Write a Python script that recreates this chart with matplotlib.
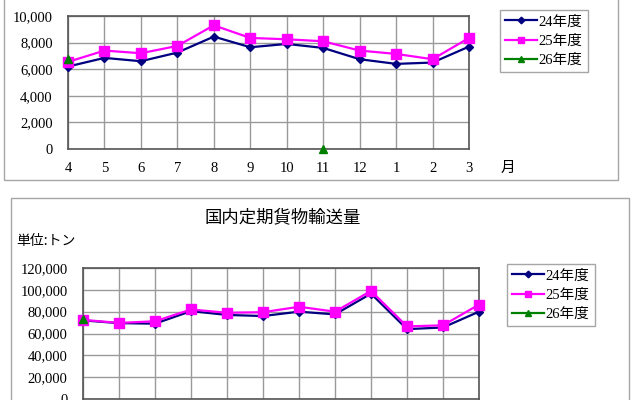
import numpy as np
import matplotlib
matplotlib.use("Agg")
import matplotlib.pyplot as plt
from matplotlib.patches import Rectangle
from matplotlib.ticker import FuncFormatter

# ---- data ----
months = ["4", "5", "6", "7", "8", "9", "10", "11", "12", "1", "2", "3"]
series_names = ["24年度", "25年度", "26年度"]

# top chart (cut off at the top of the image)
top_fy24 = [6200, 6850, 6600, 7250, 8450, 7650, 7900, 7600, 6750, 6400, 6500, 7700]
top_fy25 = [6550, 7400, 7200, 7750, 9300, 8350, 8250, 8100, 7400, 7150, 6750, 8350]
top_fy26 = [6800, np.nan, np.nan, np.nan, np.nan, np.nan, np.nan, 0, np.nan, np.nan, np.nan, np.nan]
top_yticks = [0, 2000, 4000, 6000, 8000, 10000]

# bottom chart: 国内定期貨物輸送量 (単位:トン)
bot_title = "国内定期貨物輸送量"
bot_unit = "単位:トン"
bot_fy24 = [72000, 69500, 69000, 80500, 77000, 76000, 80000, 77500, 96500, 64000, 65500, 80000]
bot_fy25 = [72500, 69700, 71200, 82000, 79000, 79500, 84500, 80000, 99000, 66500, 67500, 86500]
bot_fy26 = [73000, np.nan, np.nan, np.nan, np.nan, np.nan, np.nan, np.nan, np.nan, np.nan, np.nan, np.nan]
bot_yticks = [0, 20000, 40000, 60000, 80000, 100000, 120000]

# ---- style ----
NUMFONT = ["Liberation Serif", "Noto Sans CJK JP"]
plt.rcParams["font.family"] = NUMFONT
colors = ["#000080", "#FF00FF", "#008000"]
markers = ["D", "s", "^"]
msizes = [4.5, 6.5, 5.5]

W, H = 640, 400
fig = plt.figure(figsize=(6.4, 4.0), dpi=100)
fig.patch.set_facecolor("white")


def fx(px):
    return px / W


def fy(py):
    return 1 - py / H


# chart frames
fig.add_artist(Rectangle((fx(4), fy(180)), fx(618 - 4), fy(-20) - fy(180),
                         transform=fig.transFigure, fill=False, edgecolor="#a6a6a6", lw=1.0))
fig.add_artist(Rectangle((fx(11), fy(430)), fx(629 - 11), fy(198) - fy(430),
                         transform=fig.transFigure, fill=False, edgecolor="#a6a6a6", lw=1.0))


def make_axes(l, t, r, b, data, yticks, legend_box, show_x=True):
    ax = fig.add_axes([fx(l), fy(b), fx(r - l), fy(t) - fy(b)])
    x = np.arange(len(months))
    handles = []
    for vals, c, m, ms, name in zip(data, colors, markers, msizes, series_names):
        h, = ax.plot(x, vals, color=c, marker=m, markersize=ms, lw=1.6,
                     markeredgecolor=c, label=name, clip_on=False, zorder=3)
        handles.append(h)
    ax.set_xlim(0, len(months) - 1)
    ax.set_ylim(yticks[0], yticks[-1])
    ax.set_xticks(x)
    ax.set_xticklabels(months if show_x else [])
    ax.set_yticks(yticks)
    ax.yaxis.set_major_formatter(FuncFormatter(lambda v, p: f"{int(v):,}"))
    ax.grid(True, color="#9a9a9a", lw=1.0)
    ax.set_axisbelow(True)
    for s in ax.spines.values():
        s.set_color("#555555")
        s.set_linewidth(1.2)
    ax.tick_params(axis="both", length=0, labelsize=10.5, colors="black")
    ax.tick_params(axis="x", pad=9)
    ax.tick_params(axis="y", pad=11)
    lx, ly = legend_box
    leg = fig.legend(handles=handles, loc="upper left",
                     bbox_to_anchor=(fx(lx), fy(ly)), bbox_transform=fig.transFigure,
                     frameon=True, fancybox=False, shadow=False, fontsize=10.5,
                     handlelength=2.2, handletextpad=0.1, borderpad=0.35,
                     labelspacing=0.42, borderaxespad=0.0, markerscale=0.75)
    leg.get_frame().set_edgecolor("#909090")
    leg.get_frame().set_linewidth(1.0)
    return ax


ax1 = make_axes(68, 16, 469, 149, [top_fy24, top_fy25, top_fy26], top_yticks, (500, 10))
fig.text(fx(508), fy(168), "月", fontsize=10.5, ha="center", va="center",
         family=["Noto Sans CJK JP"])

ax2 = make_axes(83, 268, 479, 399, [bot_fy24, bot_fy25, bot_fy26], bot_yticks, (507, 264),
                show_x=False)
fig.text(fx(283), fy(217), bot_title, fontsize=12.5, ha="center", va="center",
         family=["Noto Sans CJK JP"])
fig.text(fx(16), fy(241), bot_unit, fontsize=10, ha="left", va="center",
         family=["Noto Sans CJK JP"])

fig.savefig("out.png", dpi=100)
